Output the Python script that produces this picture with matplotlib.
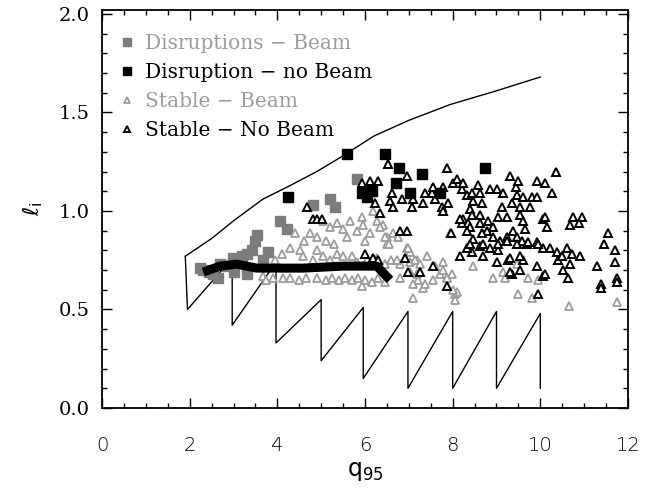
import numpy as np
import matplotlib.pyplot as plt
from matplotlib.ticker import MultipleLocator

# disruptions with beam (gray squares)
dis_beam_q = [2.24, 2.31, 2.45, 2.53, 2.65, 2.69, 2.85, 2.99, 3.0, 3.08, 3.19, 3.3, 3.3,
              3.42, 3.5, 3.53, 3.67, 3.79, 4.06, 4.22, 4.81, 5.2, 5.32, 5.82]
dis_beam_l = [0.71, 0.70, 0.69, 0.68, 0.66, 0.73, 0.72, 0.76, 0.69, 0.74, 0.77, 0.78, 0.68,
              0.80, 0.85, 0.88, 0.75, 0.79, 0.95, 0.91, 1.03, 1.06, 1.02, 1.16]

# disruptions without beam (black squares)
dis_nobeam_q = [4.24, 5.59, 6.46, 6.78, 6.71, 7.3, 7.03, 7.71, 8.74, 5.93, 6.05, 6.15]
dis_nobeam_l = [1.07, 1.29, 1.29, 1.22, 1.14, 1.19, 1.09, 1.09, 1.22, 1.09, 1.07, 1.10]

# stable with beam (gray triangles)
st_beam = [
    (4.4, 0.89), (4.75, 0.89), (5.04, 0.95), (5.2, 0.92), (5.36, 0.94), (5.5, 0.91),
    (5.66, 0.95), (5.81, 0.90), (5.93, 0.97), (5.95, 0.93), (6.11, 0.89), (6.19, 1.00),
    (6.27, 0.95), (6.42, 0.93), (6.5, 0.87), (6.65, 0.89), (6.75, 0.87), (6.95, 0.81),
    (7.03, 0.79), (4.6, 0.85), (4.9, 0.87), (5.1, 0.85), (5.6, 0.87), (5.3, 0.83), (6.0, 0.85),
    (4.52, 0.80), (4.59, 0.77), (4.82, 0.75), (4.9, 0.80), (5.04, 0.77), (5.2, 0.75),
    (5.36, 0.78), (5.5, 0.77), (5.7, 0.77), (5.81, 0.74), (6.05, 0.75), (6.27, 0.76),
    (6.46, 0.73), (6.6, 0.75), (6.8, 0.73), (7.03, 0.74), (7.19, 0.75), (4.1, 0.78),
    (4.3, 0.81), (3.95, 0.75), (6.73, 0.75), (6.98, 0.81), (7.14, 0.75), (7.41, 0.77),
    (7.6, 0.72), (7.78, 0.74), (7.71, 0.68), (7.87, 0.66), (7.99, 0.68), (6.5, 0.83),
    (3.67, 0.67), (3.75, 0.65), (3.9, 0.66), (4.13, 0.66), (4.3, 0.66), (4.5, 0.65),
    (4.65, 0.66), (4.9, 0.66), (5.1, 0.65), (5.25, 0.66), (5.4, 0.65), (5.55, 0.66),
    (5.7, 0.65), (5.85, 0.66), (6.0, 0.65), (6.15, 0.64), (6.3, 0.66), (6.45, 0.64),
    (5.93, 0.62), (6.8, 0.66), (7.03, 0.69), (7.21, 0.65), (7.1, 0.63), (7.32, 0.61),
    (8.05, 0.58), (8.1, 0.59), (7.1, 0.56), (8.05, 0.55), (9.8, 0.56), (10.65, 0.52),
    (11.75, 0.54), (9.49, 0.58), (8.46, 0.72), (8.92, 0.66), (9.15, 0.69), (9.2, 0.66),
    (9.72, 0.66), (9.95, 0.65), (9.47, 0.73), (7.94, 0.89), (6.35, 0.92), (6.45, 0.87),
    (6.55, 0.83), (7.37, 0.63), (7.87, 0.66), (8.01, 0.60), (7.78, 0.70), (7.55, 0.65),
    (7.19, 0.68), (7.26, 0.73),
]
st_beam_q = [p[0] for p in st_beam]
st_beam_l = [p[1] for p in st_beam]

# stable without beam (black triangles)
st_nobeam = [
    (4.68, 1.02), (4.82, 0.96), (4.9, 0.96), (5.02, 0.96),
    (5.93, 1.14), (6.11, 1.15), (6.3, 1.15), (6.53, 1.24), (6.95, 1.18),
    (6.62, 1.09), (6.85, 1.06), (6.23, 1.04), (6.57, 1.05), (6.64, 1.02), (7.07, 1.02),
    (7.32, 1.04), (7.6, 1.06), (6.34, 0.99), (7.1, 1.06),
    (7.53, 1.09), (7.37, 1.09), (7.55, 1.12), (7.78, 1.12), (8.01, 1.14), (8.21, 1.11),
    (7.89, 1.04), (7.76, 1.02), (7.78, 1.00),
    (7.87, 1.22), (8.1, 1.16), (8.24, 1.14), (8.58, 1.13), (8.85, 1.11), (9.01, 1.11),
    (9.15, 1.09), (9.45, 1.12), (9.31, 1.18), (9.49, 1.15), (9.92, 1.15), (10.1, 1.14),
    (10.36, 1.20), (10.27, 1.09),
    (9.47, 1.08), (9.6, 1.07), (9.81, 1.07), (9.92, 1.07), (8.33, 1.08), (8.44, 1.09),
    (8.62, 1.09), (8.46, 1.05), (8.67, 1.04), (9.35, 1.04), (9.54, 1.02), (9.76, 1.02),
    (9.13, 1.02),
    (8.4, 1.01), (8.62, 0.98), (8.24, 0.96), (8.21, 0.94), (8.35, 0.94), (8.4, 0.92),
    (8.33, 0.90), (8.17, 0.96), (8.44, 0.98), (8.62, 0.94),
    (9.03, 0.97), (9.24, 0.97), (9.54, 0.98), (9.6, 0.95), (9.65, 0.91), (8.81, 0.95),
    (8.92, 0.92), (8.78, 0.90), (8.67, 0.89), (8.46, 0.86), (8.92, 0.87), (9.08, 0.85),
    (9.24, 0.87), (9.38, 0.90), (9.47, 0.87), (9.58, 0.85), (9.7, 0.83), (9.92, 0.84),
    (10.06, 0.96), (10.15, 0.92), (10.1, 0.97), (10.75, 0.97), (10.95, 0.97), (10.68, 0.93),
    (10.88, 0.94),
    (10.22, 0.81), (10.38, 0.79), (10.06, 0.81), (9.95, 0.83), (10.4, 0.75), (10.5, 0.77),
    (10.72, 0.78), (10.91, 0.77), (10.68, 0.73), (10.52, 0.70), (10.63, 0.66), (10.06, 0.67),
    (9.92, 0.72), (9.6, 0.75), (9.54, 0.77), (9.54, 0.70), (9.35, 0.68), (9.95, 0.58),
    (9.01, 0.74), (9.26, 0.75), (9.03, 0.80), (8.62, 0.82), (8.44, 0.79), (8.69, 0.77),
    (8.17, 0.77), (8.33, 0.81),
    (11.54, 0.89), (11.45, 0.83), (11.7, 0.80), (11.7, 0.74), (11.29, 0.72), (11.75, 0.66),
    (11.75, 0.64), (11.38, 0.63), (11.38, 0.61),
    (6.91, 0.76), (6.98, 0.69), (7.26, 0.69), (7.55, 0.72), (7.87, 0.62), (6.8, 0.90),
    (6.96, 0.90), (7.96, 0.89),
    (6.0, 0.78), (6.18, 0.76), (6.3, 0.75),
    (8.4, 0.83), (8.69, 0.83), (8.85, 0.81), (9.03, 0.83), (9.24, 0.85), (9.47, 0.83),
    (9.72, 0.84), (10.6, 0.81), (9.31, 0.69), (9.31, 0.76), (10.1, 0.68),
]
st_nobeam_q = [p[0] for p in st_nobeam]
st_nobeam_l = [p[1] for p in st_nobeam]

# upper stability boundary
upper_q = [1.9, 2.5, 3.0, 3.67, 4.3, 4.9, 5.5, 6.2, 7.0, 7.94, 9.0, 10.0]
upper_l = [0.77, 0.86, 0.95, 1.06, 1.13, 1.20, 1.28, 1.38, 1.46, 1.54, 1.61, 1.68]

# lower sawtooth boundary
saw_q = [1.9, 1.95, 2.97, 2.97, 3.97, 3.97, 5.0, 5.0, 5.96, 5.96, 6.98, 6.98,
         8.0, 8.0, 9.0, 9.0, 10.0, 10.0]
saw_l = [0.77, 0.50, 0.76, 0.42, 0.74, 0.33, 0.55, 0.24, 0.51, 0.15, 0.49, 0.10,
         0.49, 0.10, 0.49, 0.10, 0.48, 0.10]

# average operating path
path_q = [2.31, 2.69, 3.07, 3.53, 4.59, 5.5, 6.27, 6.57]
path_l = [0.69, 0.72, 0.73, 0.71, 0.71, 0.72, 0.72, 0.65]

gray = '#7c7c7c'
lgray = '#9c9c9c'

fig = plt.figure(figsize=(6.56, 5.0), dpi=100)
ax = fig.add_axes([0.1555, 0.184, 0.8018, 0.796])

ax.plot(upper_q, upper_l, color='k', lw=1.0)
ax.plot(saw_q, saw_l, color='k', lw=1.0)

ax.plot(dis_beam_q, dis_beam_l, 's', color=gray, mec=gray, ms=7.5, ls='none',
        label='Disruptions \u2212 Beam', zorder=3)
ax.plot(st_beam_q, st_beam_l, '^', mfc='white', mec=lgray, mew=1.3, ms=6.3, ls='none',
        label='Stable \u2212 Beam', zorder=3)
ax.plot(st_nobeam_q, st_nobeam_l, '^', mfc='white', mec='k', mew=1.4, ms=6.3, ls='none',
        label='Stable \u2212 No Beam', zorder=4)
ax.plot(dis_nobeam_q, dis_nobeam_l, 's', color='k', ms=7.5, ls='none',
        label='Disruption \u2212 no Beam', zorder=5)
ax.plot(path_q, path_l, color='k', lw=6.5, solid_capstyle='butt', zorder=6)

ax.set_xlim(0, 12)
ax.set_ylim(0, 2.02)
ax.xaxis.set_major_locator(MultipleLocator(2))
ax.xaxis.set_minor_locator(MultipleLocator(0.5))
ax.yaxis.set_major_locator(MultipleLocator(0.5))
ax.yaxis.set_minor_locator(MultipleLocator(0.1))
ax.tick_params(which='both', direction='in', top=True, right=True, width=1.0)
ax.tick_params(which='major', length=7)
ax.tick_params(which='minor', length=3.5)
ax.tick_params(axis='x', pad=20, labelsize=14)
ax.tick_params(axis='y', pad=9, labelsize=14)
for lab in ax.get_yticklabels():
    lab.set_family('DejaVu Serif')
for lab in ax.get_xticklabels():
    lab.set_family('DejaVu Sans')
    lab.set_weight('light')
for s in ax.spines.values():
    s.set_linewidth(1.3)

ax.set_xlabel(r'$\mathrm{q}_{95}$', fontsize=17, labelpad=3)
ax.set_ylabel(r'$\ell_{\mathrm{i}}$', fontsize=16, labelpad=10)

handles, labels = ax.get_legend_handles_labels()
order = [0, 3, 1, 2]
leg = ax.legend([handles[i] for i in order], [labels[i] for i in order],
                loc='upper left', bbox_to_anchor=(-0.002, 0.985), frameon=False,
                markerscale=0.75, handlelength=0.8, handletextpad=0.5,
                labelspacing=0.5, prop={'family': 'DejaVu Serif', 'size': 14.5})
for txt, c in zip(leg.get_texts(), [lgray, 'k', lgray, 'k']):
    txt.set_color(c)

fig.savefig('out.png', dpi=100)
